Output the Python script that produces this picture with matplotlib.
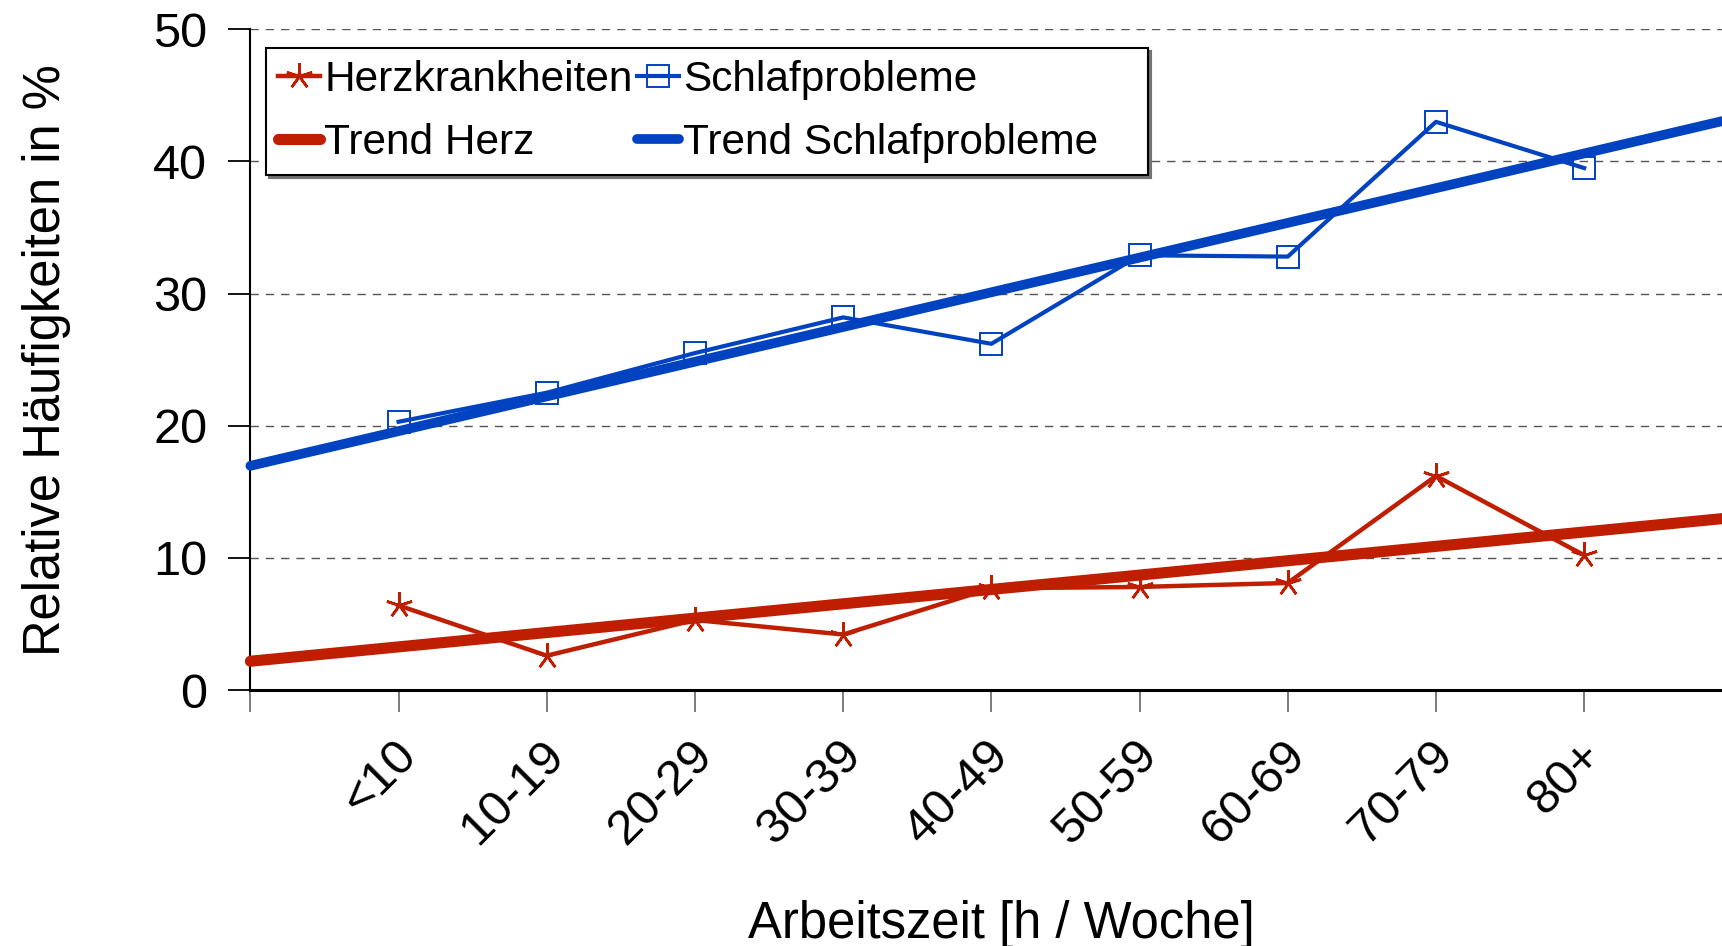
"""
Relative Häufigkeiten von Herzkrankheiten und Schlafproblemen nach Arbeitszeit,
jeweils mit linearem Trend.
"""

import matplotlib
matplotlib.use("Agg")
import matplotlib.pyplot as plt
import matplotlib.transforms as mtransforms
import numpy as np

# ── Daten ──────────────────────────────────────────────────────────────────────

KATEGORIEN = ["<10", "10-19", "20-29", "30-39", "40-49", "50-59", "60-69", "70-79", "80+"]
HERZ = [6.4, 2.6, 5.3, 4.2, 7.7, 7.8, 8.1, 16.2, 10.2]
SCHLAF = [20.3, 22.5, 25.5, 28.2, 26.2, 32.9, 32.8, 43.0, 39.5]
Y_TICKS = [0, 10, 20, 30, 40, 50]

ROT = "#BF1E00"
BLAU = "#0042C0"

plt.rcParams["font.family"] = ["Liberation Sans", "DejaVu Sans"]

# ── Figur ──────────────────────────────────────────────────────────────────────

fig = plt.figure(figsize=(17.22, 9.46), dpi=100)
ax = fig.add_axes([0.1454, 0.2706, 0.8546, 0.6984])

x = np.arange(1, len(KATEGORIEN) + 1)
XMAX = 9.93

ax.plot(x, HERZ, color=ROT, linewidth=3.2, marker=(5, 2, 0), markersize=19,
        markeredgewidth=1.9, label="Herzkrankheiten", zorder=3)
ax.plot(x, SCHLAF, color=BLAU, linewidth=3.0, marker="s", markersize=15.5,
        markerfacecolor="none", markeredgewidth=1.4, label="Schlafprobleme", zorder=3)

# lineare Trends (Kleinste-Quadrate-Fit über die Kategorien)
x_trend = np.array([0, XMAX])
for werte, farbe, name, lw in [(HERZ, ROT, "Trend Herz", 8.0),
                                (SCHLAF, BLAU, "Trend Schlafprobleme", 7.0)]:
    m, b = np.polyfit(x, werte, 1)
    ax.plot(x_trend, m * x_trend + b, color=farbe, linewidth=lw,
            solid_capstyle="round", label=name, zorder=4, clip_on=False)

ax.set_xlim(0, XMAX)
ax.set_ylim(0, 50)

ax.set_yticks(Y_TICKS)
ax.set_xticks(range(0, len(KATEGORIEN) + 1))
ax.set_xticklabels([""] + KATEGORIEN, rotation=45, ha="right", va="center",
                   rotation_mode="anchor")

ax.tick_params(axis="y", labelsize=35, length=16, width=1.3, pad=15, color="black")
ax.tick_params(axis="x", labelsize=35.5, length=16, width=1.2, pad=20, color="#666666")

# Beschriftungen etwas nach rechts unten schieben (nach tick_params!)
versatz = mtransforms.ScaledTranslation(0.11, -0.08, fig.dpi_scale_trans)
for lbl in ax.get_xticklabels():
    lbl.set_transform(lbl.get_transform() + versatz)

ax.grid(axis="y", linestyle=(0, (6, 5)), color="#555555", linewidth=1.0)
ax.set_axisbelow(True)

for s in ["top", "right"]:
    ax.spines[s].set_visible(False)
ax.spines["left"].set_linewidth(1.5)
ax.spines["bottom"].set_linewidth(2.2)

ax.set_ylabel("Relative Häufigkeiten in %", fontsize=36.5)
ax.yaxis.set_label_coords(-0.122, 0.5)
ax.set_xlabel("Arbeitszeit [h / Woche]", fontsize=36.5)
ax.xaxis.set_label_coords(0.51, -0.318)

handles, labels = ax.get_legend_handles_labels()
order = [0, 2, 1, 3]
leg = ax.legend([handles[i] for i in order], [labels[i] for i in order],
                ncol=2, loc="upper left", bbox_to_anchor=(0.0105, 0.972),
                fontsize=30.5, handlelength=1.0, handletextpad=0.1,
                columnspacing=0.1, labelspacing=0.55, borderpad=0.28,
                borderaxespad=0, numpoints=1, fancybox=False,
                edgecolor="black", framealpha=1,
                shadow={"color": "0.45", "alpha": 1})
leg.get_frame().set_linewidth(1.5)

# Rahmen rechts breiter als der Text, wie im Original
_set_bounds = leg.legendPatch.set_bounds


def breiter_rahmen(*args):
    x0, y0, w, h = args[0] if len(args) == 1 else args
    _set_bounds(x0, y0, w + 38, h)


leg.legendPatch.set_bounds = breiter_rahmen

fig.savefig("out.png", dpi=100)
